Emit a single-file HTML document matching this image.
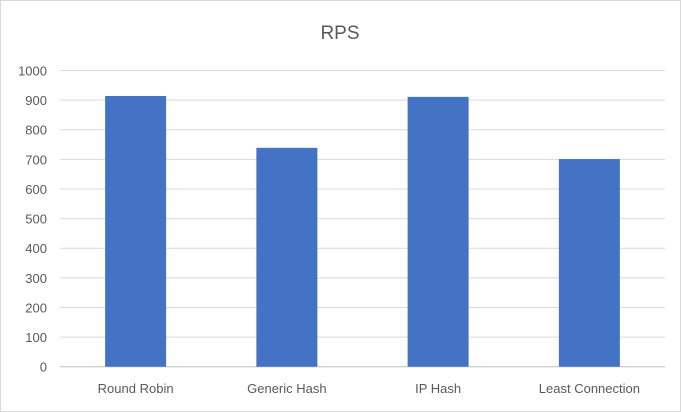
<!DOCTYPE html>
<html><head><meta charset="utf-8"><style>
html,body{margin:0;padding:0;background:#fff;}
svg{display:block;font-family:"Liberation Sans",sans-serif;}
</style></head><body>
<svg id="chart" width="681" height="412">
<rect x="0.5" y="0.5" width="680" height="411" fill="#fff" stroke="#d9d9d9"/>
<text x="340" y="39" text-anchor="middle" font-size="19" fill="#595959">RPS</text>
<g id="grid"></g><g id="bars"></g><g id="labels"></g>
</svg>
<script>
const categories=["Round Robin","Generic Hash","IP Hash","Least Connection"];
const values=[914,739,911,701];
const yTicks=[0,100,200,300,400,500,600,700,800,900,1000];
const NS="http://www.w3.org/2000/svg";
const L=60,R=665,T=70.5,B=366.7,yMax=1000;
function y(v){return B-(v/yMax)*(B-T);}
const band=(R-L)/categories.length;
function xc(i){return L+band*(i+0.5);}
const grid=document.getElementById('grid'),bars=document.getElementById('bars'),labels=document.getElementById('labels');
yTicks.forEach(t=>{
  const ln=document.createElementNS(NS,'line');
  ln.setAttribute('x1',L);ln.setAttribute('x2',R);ln.setAttribute('y1',y(t));ln.setAttribute('y2',y(t));
  ln.setAttribute('stroke',t===0?'#bfbfbf':'#d9d9d9');ln.setAttribute('stroke-width','1');
  
  
  grid.appendChild(ln);
  const tx=document.createElementNS(NS,'text');
  tx.setAttribute('x',47);tx.setAttribute('y',y(t)+5);tx.setAttribute('text-anchor','end');
  tx.setAttribute('font-size','13');tx.setAttribute('fill','#595959');tx.textContent=t;
  
  
  labels.appendChild(tx);
});
categories.forEach((c,i)=>{
  const w=61;
  const r=document.createElementNS(NS,'rect');
  r.setAttribute('x',xc(i)-w/2);r.setAttribute('y',y(values[i]));
  r.setAttribute('width',w);r.setAttribute('height',B-y(values[i]));r.setAttribute('fill','#4472c4');
  
  
  bars.appendChild(r);
  const tx=document.createElementNS(NS,'text');
  tx.setAttribute('x',xc(i));tx.setAttribute('y',393);tx.setAttribute('text-anchor','middle');
  tx.setAttribute('font-size','13');tx.setAttribute('fill','#595959');tx.textContent=c;
  
  
  labels.appendChild(tx);
});
</script>
</body></html>
